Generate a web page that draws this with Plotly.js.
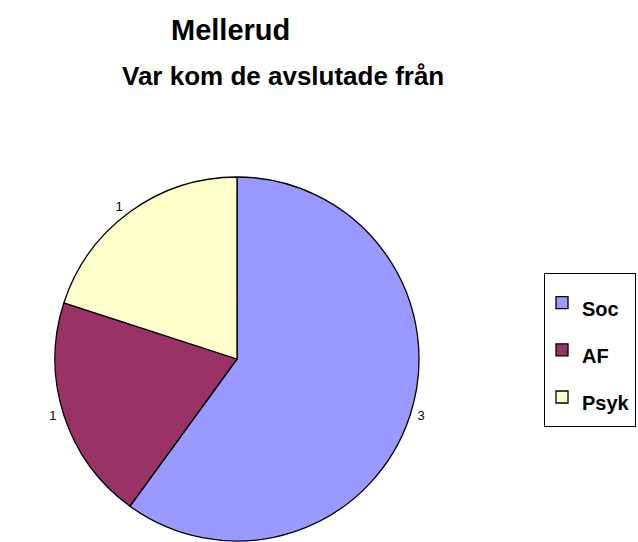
<!DOCTYPE html>
<html>
<head>
<meta charset="utf-8">
<script src="https://cdn.plot.ly/plotly-3.0.1.min.js"></script>
<style>html,body{margin:0;padding:0;background:#fff;}#chart{width:638px;height:542px;}</style>
</head>
<body>
<div id="chart"></div>
<script>
var titleLines = ["Mellerud", "Var kom de avslutade från"];
var categories = ["Soc", "AF", "Psyk"];
var values = [3, 1, 1];
var colors = ["#9999FF", "#993366", "#FFFFCC"];

var legendLabels = categories.map(function (c) {
  return '<span style="font-size:20px">' + c + '</span>';
});

var trace = {
  type: "pie",
  labels: legendLabels,
  values: values,
  sort: false,
  direction: "clockwise",
  rotation: 0,
  marker: { colors: colors, line: { color: "#000000", width: 1.3 } },
  textinfo: "value",
  texttemplate: "&nbsp;%{value}&nbsp;",
  textposition: "outside",
  outsidetextfont: { family: "Liberation Sans, Arial, sans-serif", size: 13, color: "#000000" },
  automargin: false,
  hoverinfo: "label+value",
  domain: { x: [55 / 638, 419 / 638], y: [1 / 542, 365 / 542] }
};

var layout = {
  width: 638,
  height: 542,
  margin: { l: 0, r: 0, t: 0, b: 0 },
  paper_bgcolor: "#ffffff",
  font: { family: "Liberation Sans, Arial, sans-serif", color: "#000000" },
  showlegend: true,
  legend: {
    x: 544 / 638, xanchor: "left",
    y: 1 - 273 / 542, yanchor: "top",
    bordercolor: "#000000", borderwidth: 1,
    bgcolor: "#ffffff",
    font: { family: "Liberation Sans, Arial, sans-serif", size: 34, color: "#000000", weight: "bold" },
    indentation: -3,
    entrywidth: 160,
    itemclick: false
  },
  annotations: [
    { text: "<b>" + titleLines[0] + "</b>", xref: "paper", yref: "paper", x: 230 / 638, y: 1 - 30 / 542,
      xanchor: "center", yanchor: "middle", showarrow: false,
      font: { family: "Liberation Sans, Arial, sans-serif", size: 29, color: "#000000" } },
    { text: "<b>" + titleLines[1] + "</b>", xref: "paper", yref: "paper", x: 283 / 638, y: 1 - 76 / 542,
      xanchor: "center", yanchor: "middle", showarrow: false,
      font: { family: "Liberation Sans, Arial, sans-serif", size: 26, color: "#000000" } }
  ]
};

Plotly.newPlot("chart", [trace], layout, { displayModeBar: false, staticPlot: true });
</script>
</body>
</html>
